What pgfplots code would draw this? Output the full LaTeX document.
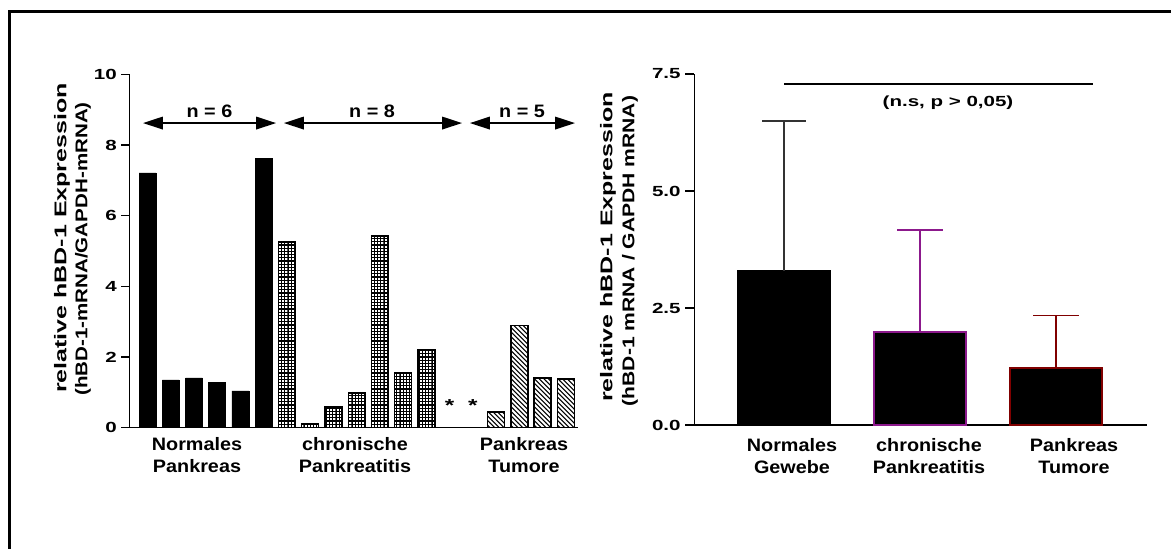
\documentclass[border=0pt]{standalone}
\usepackage{fontspec}
\setmainfont{Liberation Sans}
\newfontfamily\tickf{Liberation Sans}[FakeStretch=1.4]
\newfontfamily\catf{Liberation Sans}[FakeStretch=1.1]
\newfontfamily\labfa{Liberation Sans}[FakeStretch=1.47]
\newfontfamily\labfb{Liberation Sans}[FakeStretch=1.21]
\newfontfamily\labfc{Liberation Sans}[FakeStretch=1.24]
\usepackage{pgfplots}
\usepackage{pgfplotstable}
\pgfplotsset{compat=1.18}
\usetikzlibrary{arrows.meta,patterns}
\definecolor{purp}{RGB}{140,25,140}
\definecolor{dred}{RGB}{128,0,0}
\pgfdeclarepatternformonly{fgrid}{\pgfqpoint{-0.5pt}{-0.5pt}}{\pgfqpoint{2.9pt}{2.9pt}}{\pgfqpoint{2.4pt}{2.4pt}}{%
  \pgfsetlinewidth{0.8pt}%
  \pgfpathmoveto{\pgfqpoint{0pt}{0pt}}\pgfpathlineto{\pgfqpoint{2.41pt}{0pt}}%
  \pgfpathmoveto{\pgfqpoint{0pt}{0pt}}\pgfpathlineto{\pgfqpoint{0pt}{2.41pt}}%
  \pgfusepath{stroke}}
\pgfdeclarepatternformonly{nwl}{\pgfqpoint{-1pt}{-1pt}}{\pgfqpoint{4.5pt}{4.5pt}}{\pgfqpoint{3.5pt}{3.5pt}}{%
  \pgfsetlinewidth{0.8pt}%
  \pgfpathmoveto{\pgfqpoint{0pt}{3.5pt}}\pgfpathlineto{\pgfqpoint{3.6pt}{-0.1pt}}%
  \pgfusepath{stroke}}

\pgfplotstableread{
x y
1 7.21
2 1.35
3 1.41
4 1.27
5 1.04
6 7.63
}\normaldata
\pgfplotstableread{
x y
7 5.25
8 0.12
9 0.59
10 0.98
11 5.43
12 1.55
13 2.22
}\chronicdata
\pgfplotstableread{
x y
16 0.45
17 2.89
18 1.41
19 1.38
}\tumordata

\begin{document}
\begin{tikzpicture}[x=0.75pt,y=0.75pt]
\path[use as bounding box] (0,0) rectangle (1171,549);
\draw[line width=2.25pt, line join=miter] (9.5,-5) -- (9.5,537.5) -- (1176,537.5);

% ---------------- left chart
\begin{axis}[at={(97.125pt,90.975pt)}, anchor=south west, scale only axis,
  width=336.4pt, height=265.05pt,
  xmin=0.226, xmax=19.52, ymin=0, ymax=10,
  axis x line=bottom, axis y line=left,
  axis line style={-, line width=1.1pt},
  xtick=\empty, ytick={0,2,...,10},
  tick align=outside, major tick length=6pt,
  tick style={black, line width=1.1pt},
  /pgf/number format/assume math mode=true,
  yticklabel style={font=\tickf\bfseries\fontsize{11}{13}\selectfont},
  clip=false]
\addplot[ybar, bar width=0.73, bar shift=0pt, fill=black, draw=black, line width=0.5pt] table[x=x,y=y] {\normaldata};
\addplot[ybar, bar width=0.73, bar shift=0pt, pattern=fgrid, draw=black, line width=1.1pt] table[x=x,y=y] {\chronicdata};
\addplot[ybar, bar width=0.73, bar shift=0pt, pattern=nwl, draw=black, line width=1.1pt] table[x=x,y=y] {\tumordata};
\node[font=\tickf\bfseries\fontsize{13}{13}\selectfont] at (axis cs:14,0.62) {*};
\node[font=\tickf\bfseries\fontsize{13}{13}\selectfont] at (axis cs:15,0.62) {*};
\draw[{Triangle[length=15pt,width=9.5pt]}-{Triangle[length=15pt,width=9.5pt]}, line width=1.1pt] (axis cs:0.806,8.62) -- (axis cs:6.53,8.62);
\draw[{Triangle[length=15pt,width=9.5pt]}-{Triangle[length=15pt,width=9.5pt]}, line width=1.1pt] (axis cs:6.87,8.62) -- (axis cs:14.53,8.62);
\draw[{Triangle[length=15pt,width=9.5pt]}-{Triangle[length=15pt,width=9.5pt]}, line width=1.1pt] (axis cs:14.87,8.62) -- (axis cs:19.39,8.62);
\end{axis}

% ---------------- right chart
\begin{axis}[at={(520.725pt,93pt)}, anchor=south west, scale only axis,
  width=339.5pt, height=263.25pt,
  xmin=0.34, xmax=3.67, ymin=0, ymax=7.5,
  axis x line=bottom, axis y line=left,
  axis line style={-, line width=1.1pt},
  xtick=\empty, ytick={0,2.5,5,7.5},
  tick align=outside, major tick length=6.75pt,
  tick style={black, line width=1.1pt},
  /pgf/number format/.cd, fixed, fixed zerofill, precision=1, assume math mode=true,
  /pgfplots/.cd,
  yticklabel style={font=\tickf\bfseries\fontsize{11}{13}\selectfont},
  clip=false]
\addplot[ybar, bar width=0.676, bar shift=0pt, fill=black, draw=black, line width=1.1pt,
  error bars/.cd, y dir=plus, y explicit,
  error bar style={line width=1.1pt, draw=black!80},
  error mark options={rotate=90, mark size=16.5pt, line width=1.1pt, draw=black!80}]
  coordinates {(1,3.30) +- (0,3.20)};
\addplot[ybar, bar width=0.676, bar shift=0pt, fill=black, draw=purp, line width=1.4pt,
  error bars/.cd, y dir=plus, y explicit,
  error bar style={line width=1.1pt, draw=purp},
  error mark options={rotate=90, mark size=17pt, line width=1.1pt, draw=purp}]
  coordinates {(2,1.99) +- (0,2.18)};
\addplot[ybar, bar width=0.676, bar shift=0pt, fill=black, draw=dred, line width=1.4pt,
  error bars/.cd, y dir=plus, y explicit,
  error bar style={line width=1.1pt, draw=dred},
  error mark options={rotate=90, mark size=17pt, line width=1.1pt, draw=dred}]
  coordinates {(3,1.22) +- (0,1.12)};
\draw[line width=1.5pt] (axis cs:1.0,7.28) -- (axis cs:3.27,7.28);
\end{axis}

% ---------------- texts
\node[font=\tickf\bfseries\fontsize{11}{13}\selectfont] at (948,446) {(n.s, p > 0,05)};

\node[rotate=90, font=\labfa\bfseries\fontsize{12.75}{14}\selectfont] at (62,311) {relative hBD-1 Expression};
\node[rotate=90, font=\labfb\bfseries\fontsize{12.75}{14}\selectfont] at (83,300) {(hBD-1-mRNA/GAPDH-mRNA)};
\node[rotate=90, font=\labfa\bfseries\fontsize{12.75}{14}\selectfont] at (608,302) {relative hBD-1 Expression};
\node[rotate=90, font=\labfc\bfseries\fontsize{12.75}{14}\selectfont] at (630,298) {(hBD-1 mRNA / GAPDH mRNA)};

\node[font=\catf\bfseries\fontsize{13.5}{16.5}\selectfont] at (209.5,438) {n = 6};
\node[font=\catf\bfseries\fontsize{13.5}{16.5}\selectfont] at (372,438) {n = 8};
\node[font=\catf\bfseries\fontsize{13.5}{16.5}\selectfont] at (522,438) {n = 5};

\node[align=center, font=\catf\bfseries\fontsize{13.5}{16.5}\selectfont] at (197,94) {Normales\\Pankreas};
\node[align=center, font=\catf\bfseries\fontsize{13.5}{16.5}\selectfont] at (355,94) {chronische\\Pankreatitis};
\node[align=center, font=\catf\bfseries\fontsize{13.5}{16.5}\selectfont] at (524,94) {Pankreas\\Tumore};

\node[align=center, font=\catf\bfseries\fontsize{13.5}{16.5}\selectfont] at (792,93) {Normales\\Gewebe};
\node[align=center, font=\catf\bfseries\fontsize{13.5}{16.5}\selectfont] at (929,93) {chronische\\Pankreatitis};
\node[align=center, font=\catf\bfseries\fontsize{13.5}{16.5}\selectfont] at (1074,93) {Pankreas\\Tumore};
\end{tikzpicture}
\end{document}
